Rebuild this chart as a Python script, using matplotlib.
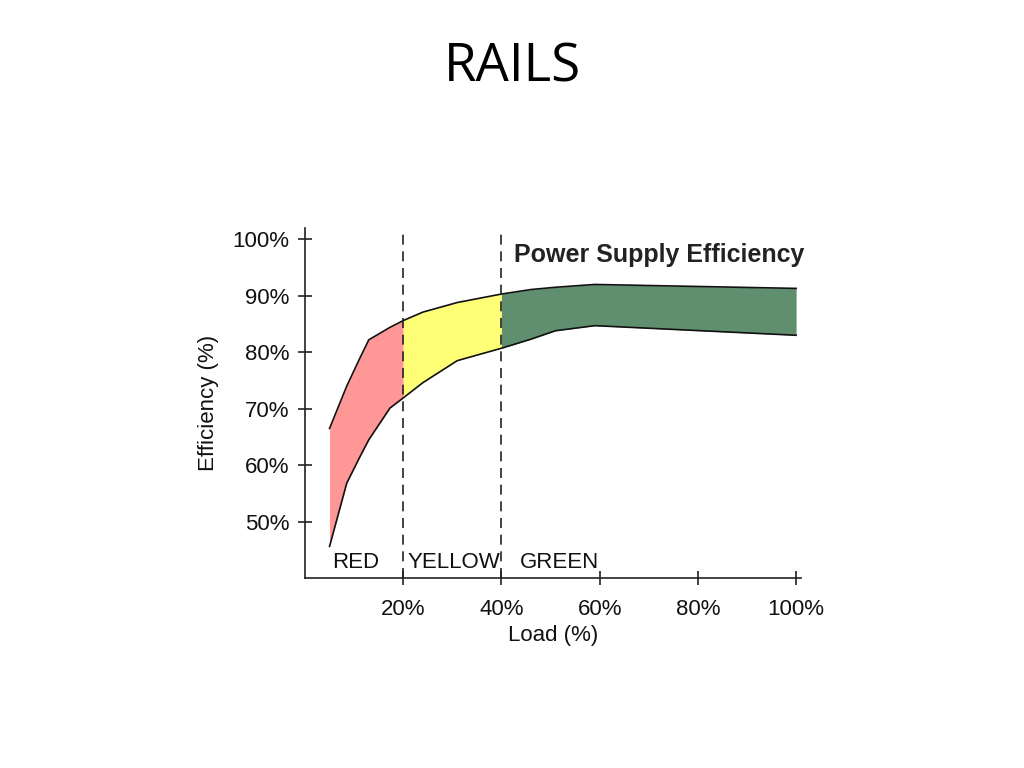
import matplotlib
matplotlib.use("Agg")
import matplotlib.pyplot as plt
import numpy as np

# --- data ---
load = [5, 8.5, 11.2, 13, 17.3, 20, 24, 31, 40, 46, 51, 59, 100]
eff_high = [66.5, 74.0, 79.0, 82.2, 84.4, 85.6, 87.1, 88.8, 90.3, 91.1, 91.5, 92.0, 91.3]
eff_low = [45.6, 56.8, 61.5, 64.5, 70.1, 71.9, 74.6, 78.5, 80.7, 82.3, 83.8, 84.7, 83.0]

zones = ["RED", "YELLOW", "GREEN"]
zone_edges = [(0, 20), (20, 40), (40, 100)]
zone_colors = ["#ff9797", "#ffff77", "#5f8f6e"]
zone_label_x = [5.5, 20.8, 43.8]

x_ticks = [20, 40, 60, 80, 100]
y_ticks = [50, 60, 70, 80, 90, 100]

plt.rcParams['font.family'] = ['Liberation Sans', 'DejaVu Sans']

fig = plt.figure(figsize=(10.24, 7.68), dpi=100)
fig.text(0.5, 1 - 68 / 768, "RAILS", ha="center", va="center",
         fontsize=38, family=["Open Sans", "DejaVu Sans"], color="#000000")

ax = fig.add_axes([305 / 1024, 190 / 768, 496 / 1024, 350 / 768])

x = np.array(load)
hi = np.array(eff_high)
lo = np.array(eff_low)

for (a, b), c in zip(zone_edges, zone_colors):
    mask = (x >= a) & (x <= b)
    ax.fill_between(x, lo, hi, where=mask, color=c, linewidth=0)

ax.plot(x, hi, color="#111111", lw=1.2)
ax.plot(x, lo, color="#111111", lw=1.2)

for xv in [20, 40]:
    ax.plot([xv, xv], [40, 102], color="#222222", lw=1.2, ls=(0, (6, 4)))

for name, xl in zip(zones, zone_label_x):
    ax.text(xl, 42.7, name, fontsize=16, ha="left", va="center", color="#111111")

ax.text(42.6, 97.2, "Power Supply Efficiency", fontsize=18, fontweight="bold",
        ha="left", va="center", color="#222222")

ax.set_xlim(0, 101)
ax.set_ylim(40, 102)
ax.set_xticks(x_ticks)
ax.set_xticklabels([f"{v}%" for v in x_ticks])
ax.set_yticks(y_ticks)
ax.set_yticklabels([f"{v}%" for v in y_ticks])
ax.spines["top"].set_visible(False)
ax.spines["right"].set_visible(False)
for s in ["left", "bottom"]:
    ax.spines[s].set_color("#222222")
    ax.spines[s].set_linewidth(1.2)
ax.tick_params(axis="both", direction="inout", length=10, width=1.2,
               labelsize=16, colors="#222222", labelcolor="#111111")
ax.tick_params(axis="x", pad=10)
ax.tick_params(axis="y", pad=6)
ax.set_xlabel("Load (%)", fontsize=16, color="#111111", labelpad=4)
ax.set_ylabel("Efficiency (%)", fontsize=16, color="#111111", labelpad=10)

fig.savefig("out.png", dpi=100)
